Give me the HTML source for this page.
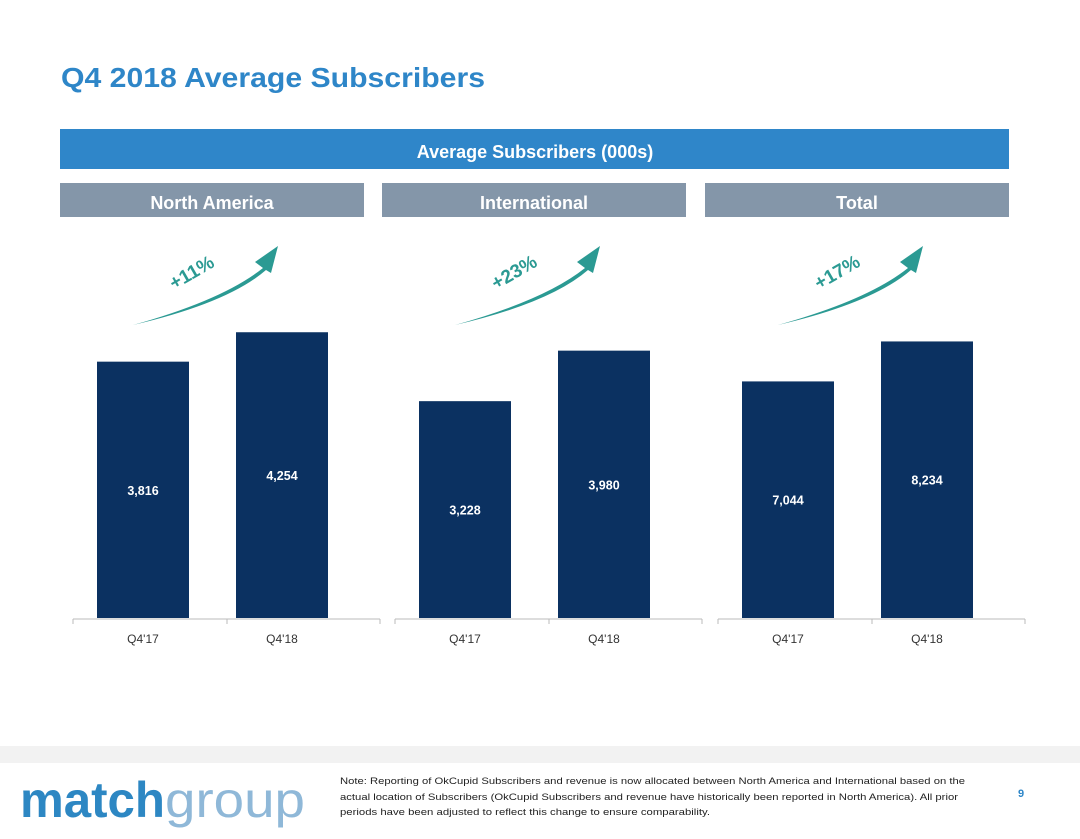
<!DOCTYPE html>
<html><head><meta charset="utf-8"><style>
body{margin:0;width:1080px;height:834px;background:#fff;overflow:hidden;font-family:"Liberation Sans",sans-serif}
</style></head><body>
<svg width="1080" height="834" viewBox="0 0 1080 834" xmlns="http://www.w3.org/2000/svg">
<text x="61" y="87" font-size="28" font-weight="bold" fill="#2e86c8" textLength="424" lengthAdjust="spacingAndGlyphs">Q4 2018 Average Subscribers</text>
<rect x="60" y="129" width="949" height="40" fill="#2f86c9"/>
<text x="535" y="158" font-size="18" font-weight="bold" fill="#fff" text-anchor="middle">Average Subscribers (000s)</text>
<g id="panels"></g>
<rect x="0" y="746" width="1080" height="17" fill="#f2f2f2"/>
<text x="20" y="817" font-size="50" fill="#2d87c3"><tspan font-weight="bold" textLength="145" lengthAdjust="spacingAndGlyphs">match</tspan><tspan fill="#8fb8d8" textLength="140" lengthAdjust="spacingAndGlyphs">group</tspan></text>
<text font-size="9.5" fill="#222">
<tspan x="340" y="784" textLength="625" lengthAdjust="spacingAndGlyphs">Note: Reporting of OkCupid Subscribers and revenue is now allocated between North America and International based on the</tspan>
<tspan x="340" y="800" textLength="618" lengthAdjust="spacingAndGlyphs">actual location of Subscribers (OkCupid Subscribers and revenue have historically been reported in North America).  All prior</tspan>
<tspan x="340" y="815" textLength="370" lengthAdjust="spacingAndGlyphs">periods have been adjusted to reflect this change to ensure comparability.</tspan>
</text>
<text x="1018" y="797" font-size="11" font-weight="bold" fill="#2e86c8">9</text>
</svg>
<script>
const panelNames=["North America","International","Total"];
const categories=["Q4'17","Q4'18"];
const naValues=[3816,4254];
const intlValues=[3228,3980];
const totalValues=[7044,8234];
const growthLabels=["+11%","+23%","+17%"];
const ns="http://www.w3.org/2000/svg";
const g=document.getElementById('panels');
const series=[naValues,intlValues,totalValues];
const panelX=[60,382,705];
const axisMax=[8530,8530,17060];
const baseY=618, plotH=573;
function mk(t,a){const e=document.createElementNS(ns,t);for(const k in a)e.setAttribute(k,a[k]);g.appendChild(e);return e;}
series.forEach((vals,p)=>{
  const x0=panelX[p];
  const hdr=mk('rect',{x:x0,y:183,width:304,height:34,fill:'#8496a9'});
  
  
  const ht=mk('text',{x:x0+152,y:209,'font-size':18,'font-weight':'bold',fill:'#fff','text-anchor':'middle'});
  ht.textContent=panelNames[p];
  
  
  const ax=mk('line',{x1:x0+13,x2:x0+320,y1:baseY+1,y2:baseY+1,stroke:'#bbb'});
  
  
  mk('line',{x1:x0+13,x2:x0+13,y1:baseY+1,y2:baseY+6,stroke:'#bbb'});
  mk('line',{x1:x0+167,x2:x0+167,y1:baseY+1,y2:baseY+6,stroke:'#bbb'});
  mk('line',{x1:x0+320,x2:x0+320,y1:baseY+1,y2:baseY+6,stroke:'#bbb'});
  vals.forEach((v,i)=>{
    const bx=x0+37+i*139, h=v/axisMax[p]*plotH;
    const r=mk('rect',{x:bx,y:baseY-h,width:92,height:h,fill:'#0b3161'});
    
    
    const t=mk('text',{x:bx+46,y:baseY-h/2+5,'font-size':12.5,'font-weight':'bold',fill:'#fff','text-anchor':'middle'});
    t.textContent=v.toLocaleString('en-US');
    
    
    const c=mk('text',{x:bx+46,y:643,'font-size':12,fill:'#333','text-anchor':'middle'});
    c.textContent=categories[i];
    
    
  });
  const a=x0+73;
  const arr=mk('path',{d:`M${a} 325 Q${a+90} 300 ${a+130} 268 L${a+122} 262 L${a+145} 246 L${a+138} 273 L${a+133} 270 Q${a+95} 303 ${a} 325 Z`,fill:'#2b9a93'});
  
  
  const gt=mk('text',{x:a+41,y:290,'font-size':19,'font-weight':'bold',fill:'#2b9a93',transform:`rotate(-30 ${a+41} 290)`});
  gt.textContent=growthLabels[p];
  
  
});
</script>
</body></html>
